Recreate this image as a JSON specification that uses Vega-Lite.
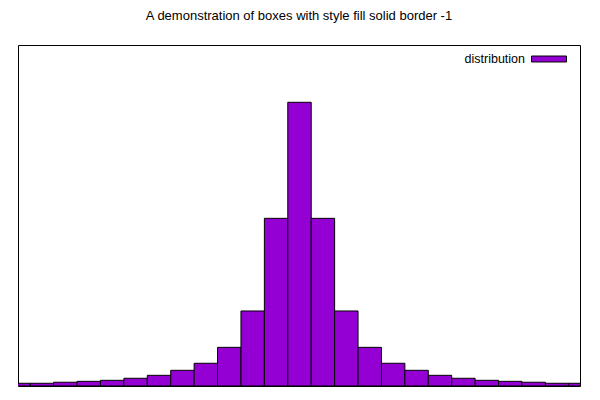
{
  "$schema": "https://vega.github.io/schema/vega-lite/v6.json",
  "autosize": {"type": "none"},
  "width": 562,
  "height": 341,
  "padding": {"left": 18, "top": 45, "right": 20, "bottom": 14},
  "background": "white",
  "config": {
    "view": {"stroke": "black", "strokeWidth": 1},
    "font": "Liberation Sans"
  },
  "title": {
    "text": "A demonstration of boxes with style fill solid border -1",
    "fontSize": 13,
    "fontWeight": "normal",
    "font": "Liberation Sans",
    "color": "black",
    "offset": 18
  },
  "data": {
    "values": [
      {"x0": -12.5, "x1": -11.5, "y": 0.0024, "series": "distribution"},
      {"x0": -11.5, "x1": -10.5, "y": 0.0024, "series": "distribution"},
      {"x0": -10.5, "x1": -9.5, "y": 0.0033, "series": "distribution"},
      {"x0": -9.5, "x1": -8.5, "y": 0.0041, "series": "distribution"},
      {"x0": -8.5, "x1": -7.5, "y": 0.0050, "series": "distribution"},
      {"x0": -7.5, "x1": -6.5, "y": 0.0068, "series": "distribution"},
      {"x0": -6.5, "x1": -5.5, "y": 0.0094, "series": "distribution"},
      {"x0": -5.5, "x1": -4.5, "y": 0.0138, "series": "distribution"},
      {"x0": -4.5, "x1": -3.5, "y": 0.0200, "series": "distribution"},
      {"x0": -3.5, "x1": -2.5, "y": 0.0340, "series": "distribution"},
      {"x0": -2.5, "x1": -1.5, "y": 0.0660, "series": "distribution"},
      {"x0": -1.5, "x1": -0.5, "y": 0.1475, "series": "distribution"},
      {"x0": -0.5, "x1": 0.5, "y": 0.2496, "series": "distribution"},
      {"x0": 0.5, "x1": 1.5, "y": 0.1475, "series": "distribution"},
      {"x0": 1.5, "x1": 2.5, "y": 0.0660, "series": "distribution"},
      {"x0": 2.5, "x1": 3.5, "y": 0.0340, "series": "distribution"},
      {"x0": 3.5, "x1": 4.5, "y": 0.0200, "series": "distribution"},
      {"x0": 4.5, "x1": 5.5, "y": 0.0138, "series": "distribution"},
      {"x0": 5.5, "x1": 6.5, "y": 0.0094, "series": "distribution"},
      {"x0": 6.5, "x1": 7.5, "y": 0.0068, "series": "distribution"},
      {"x0": 7.5, "x1": 8.5, "y": 0.0050, "series": "distribution"},
      {"x0": 8.5, "x1": 9.5, "y": 0.0041, "series": "distribution"},
      {"x0": 9.5, "x1": 10.5, "y": 0.0033, "series": "distribution"},
      {"x0": 10.5, "x1": 11.5, "y": 0.0024, "series": "distribution"},
      {"x0": 11.5, "x1": 12.5, "y": 0.0024, "series": "distribution"}
    ]
  },
  "mark": {"type": "bar", "clip": true, "stroke": "black", "strokeWidth": 1, "binSpacing": 0},
  "encoding": {
    "x": {"field": "x0", "type": "quantitative", "bin": {"binned": true, "step": 1}, "scale": {"domain": [-12, 12], "nice": false, "zero": false}, "axis": null},
    "x2": {"field": "x1"},
    "y": {"field": "y", "type": "quantitative", "scale": {"domain": [0, 0.3], "nice": false}, "axis": null},
    "color": {
      "field": "series",
      "type": "nominal",
      "scale": {"range": ["#9400D3"]},
      "legend": {
        "title": null,
        "orient": "none",
        "legendX": 513,
        "legendY": -4,
        "symbolType": "M-1,-0.17H1V0.17H-1Z",
        "symbolSize": 1225,
        "symbolStrokeColor": "black",
        "symbolStrokeWidth": 1,
        "symbolFillColor": "#9400D3",
        "symbolOpacity": 1,
        "labelAlign": "right",
        "labelOffset": -42,
        "labelFontSize": 12.5,
        "labelFont": "Liberation Sans",
        "labelColor": "black",
        "padding": 0
      }
    }
  }
}
